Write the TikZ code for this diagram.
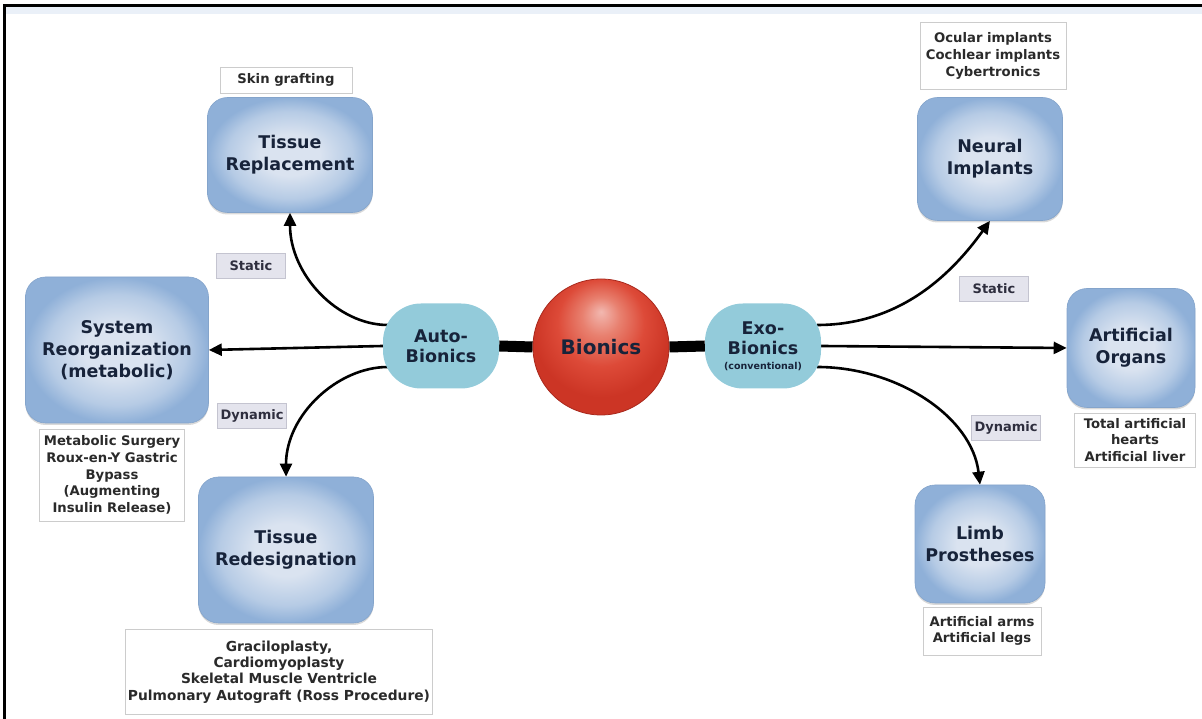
\documentclass[tikz,border=0pt]{standalone}
\usepackage{fontspec}
\setmainfont{DejaVu Sans}
\usetikzlibrary{arrows.meta,calc,backgrounds,shadows}
\definecolor{boxin}{HTML}{DAE3F0}
\definecolor{boxmid}{HTML}{B6CBE5}
\definecolor{boxout}{HTML}{8FB0D8}
\definecolor{boxedge}{HTML}{84A4CB}
\definecolor{titlecol}{HTML}{17233A}
\definecolor{biofill}{HTML}{93CBDA}
\definecolor{ballin}{HTML}{F2B8B0}
\definecolor{ballmid}{HTML}{E8806F}
\definecolor{ballout}{HTML}{DD4A38}
\definecolor{balledge}{HTML}{CC3525}
\definecolor{balldraw}{HTML}{A8281C}
\definecolor{tagfill}{HTML}{E4E4ED}
\definecolor{tagedge}{HTML}{C4C4D0}
\definecolor{tagtext}{HTML}{2E2E3E}
\definecolor{lbledge}{HTML}{CCCCCC}
\definecolor{lbltext}{HTML}{2A2A2A}
\definecolor{topband}{HTML}{EAF0F8}
\pgfdeclareradialshading{boxshade}{\pgfpoint{0bp}{0bp}}{color(0bp)=(boxin); color(9bp)=(boxin); color(19bp)=(boxmid); color(25bp)=(boxout); color(50bp)=(boxout)}
\pgfdeclareradialshading{ballshade}{\pgfpoint{0bp}{13bp}}{color(0bp)=(ballin); color(7bp)=(ballmid); color(16bp)=(ballout); color(25bp)=(balledge); color(50bp)=(balledge)}
\begin{document}
\begin{tikzpicture}[x=1pt,y=1pt,
  box/.style={rounded corners=20pt, shade, shading=boxshade, draw=boxedge, line width=0.6pt,
    font=\bfseries\fontsize{17.5}{22}\selectfont, text=titlecol, align=center, inner sep=0pt,
    drop shadow={shadow xshift=0pt, shadow yshift=-2pt, opacity=0.3, fill=black!50}},
  lbl/.style={draw=lbledge, fill=white, line width=0.6pt, inner sep=0pt, align=center,
    font=\bfseries\fontsize{13.2}{16.6}\selectfont, text=lbltext},
  tagbox/.style={draw=tagedge, fill=tagfill, line width=0.6pt, minimum width=69pt, minimum height=25pt,
    inner sep=0pt, font=\bfseries\fontsize{13}{15}\selectfont, text=tagtext},
  bio/.style={rounded corners=38pt, fill=biofill, minimum width=116pt, minimum height=85pt, inner sep=0pt,
    align=center, font=\bfseries\fontsize{17.5}{20}\selectfont, text=titlecol},
  ball/.style={circle, minimum size=136pt, inner sep=0pt, shade, shading=ballshade, draw=balldraw, line width=0.8pt,
    font=\bfseries\fontsize{20}{24}\selectfont, text=titlecol},
  conn/.style={line width=2.6pt, -{Triangle[length=13pt,width=12pt]}},
  bar/.style={line width=11pt}]
\useasboundingbox (0,0) rectangle (1202,719);
% frame
\fill[topband] (6,705) rectangle (1202,712);
\draw[line width=3pt] (4.5,0) -- (4.5,713.5) -- (1202,713.5);

% main nodes
\node[ball] (bion) at (601,372) {Bionics};
\node[bio] (auto) at (441,373) {Auto-\\Bionics};
\node[bio] (exo) at (763,373) {Exo-\\Bionics\\[-5pt]{\fontsize{9.5}{11}\selectfont (conventional)}};

\node[box, minimum width=165pt, minimum height=115pt] (trep) at (290,564) {Tissue\\Replacement};
\node[box, minimum width=183pt, minimum height=146pt] (sys) at (117,369) {System\\Reorganization\\(metabolic)};
\node[box, minimum width=175pt, minimum height=146pt] (tred) at (286,169) {Tissue\\Redesignation};
\node[box, minimum width=145pt, minimum height=123pt] (neur) at (990,560) {Neural\\Implants};
\node[box, minimum width=128pt, minimum height=119pt] (artorg) at (1131,371) {Artificial\\Organs};
\node[box, minimum width=130pt, minimum height=118pt] (limb) at (980,175) {Limb\\Prostheses};

% labels
\node[lbl, minimum width=132pt, minimum height=26pt] (skin) at (286,639) {Skin grafting};
\node[lbl, minimum width=145pt, minimum height=92pt] (metab) at (112,244) {Metabolic Surgery\\Roux-en-Y Gastric\\Bypass\\(Augmenting\\Insulin Release)};
\node[lbl, minimum width=307pt, minimum height=85pt, font=\bfseries\fontsize{13.8}{16.4}\selectfont] (grac) at (279,47) {Graciloplasty,\\Cardiomyoplasty\\Skeletal Muscle Ventricle\\Pulmonary Autograft (Ross Procedure)};
\node[lbl, minimum width=146pt, minimum height=67pt] (ocul) at (993,663) {Ocular implants\\Cochlear implants\\Cybertronics};
\node[lbl, minimum width=121pt, minimum height=54pt] (total) at (1135,279) {Total artificial\\hearts\\Artificial liver};
\node[lbl, minimum width=118pt, minimum height=48pt] (arms) at (982,88) {Artificial arms\\Artificial legs};

% tags
\node[tagbox] (statL) at (251,453) {Static};
\node[tagbox] (dynL) at (252,303) {Dynamic};
\node[tagbox] (statR) at (994,430) {Static};
\node[tagbox] (dynR) at (1006,291) {Dynamic};

% connectors
\begin{pgfonlayer}{background}
\draw[bar] (auto.east) -- (bion.west);
\draw[bar] (bion.east) -- (exo.west);
\draw[conn] ($(auto.west)+(5,21)$) .. controls +(-50,0) and +(0,-62) .. (trep.south);
\draw[conn] (auto.west) -- (sys.east);
\draw[conn] ($(auto.west)+(5,-21)$) .. controls +(-50,0) and +(0,62) .. (tred.north);
\draw[conn] ($(exo.east)+(-4,21)$) .. controls +(80,0) and +(-41,-57) .. (neur.south);
\draw[conn] (exo.east) -- (artorg.west);
\draw[conn] ($(exo.east)+(-4,-21)$) .. controls +(80,0) and +(-8,68) .. (limb.north);
\end{pgfonlayer}
\end{tikzpicture}
\end{document}
